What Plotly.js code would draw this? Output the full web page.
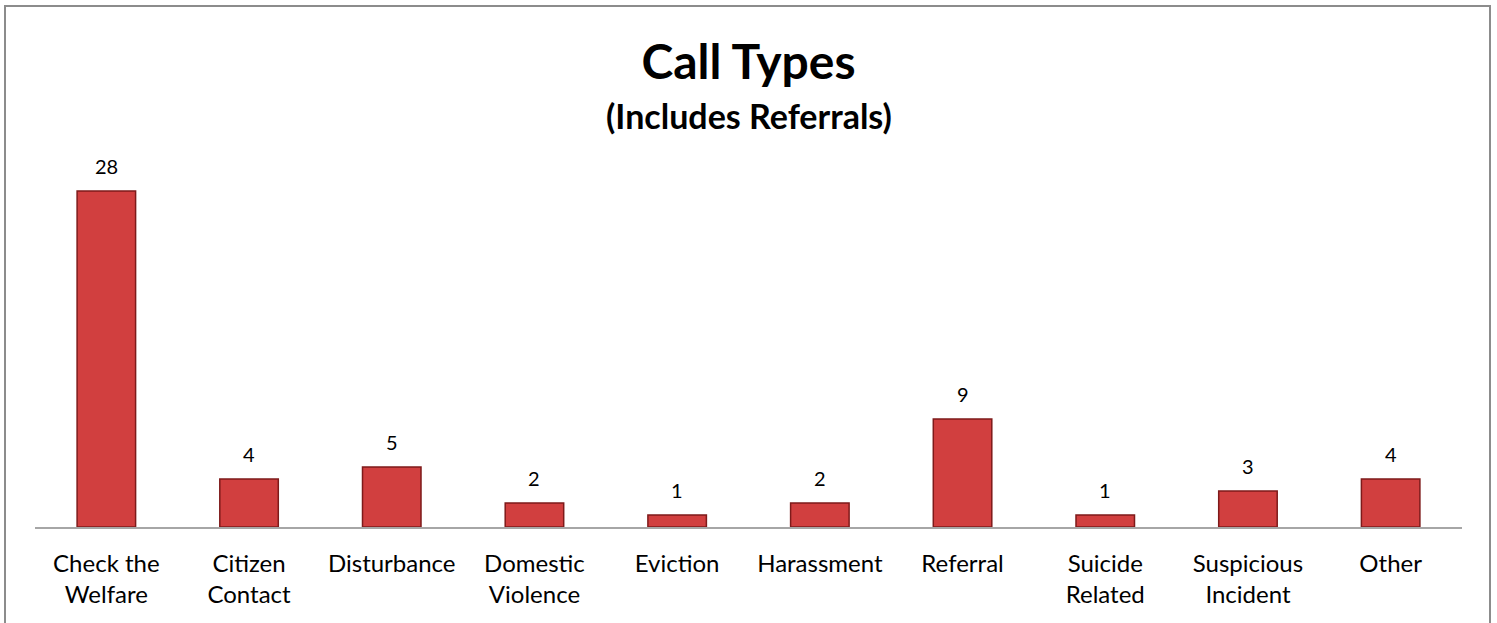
<!DOCTYPE html>
<html>
<head>
<meta charset="utf-8">
<script src="https://cdn.plot.ly/plotly-3.0.1.min.js"></script>
<style>
  html, body { margin: 0; padding: 0; background: #ffffff; }
  #wrap { position: relative; width: 1497px; height: 623px; overflow: hidden; }
  #chart { width: 1497px; height: 623px; }
  #frame { position: absolute; left: 4px; top: 5px; width: 1483px; height: 640px;
           border: 2px solid #8c8c8c; pointer-events: none; }
</style>
</head>
<body>
<div id="wrap">
  <div id="chart"></div>
  <div id="frame"></div>
</div>
<script>
const categories = [
  "Check the<br>Welfare", "Citizen<br>Contact", "Disturbance", "Domestic<br>Violence",
  "Eviction", "Harassment", "Referral", "Suicide<br>Related", "Suspicious<br>Incident", "Other"
];
const counts = [28, 4, 5, 2, 1, 2, 9, 1, 3, 4];
const titleText = "Call Types";
const subtitleText = "(Includes Referrals)";

const FONT = "Lato, 'Open Sans', sans-serif";

const trace = {
  type: "bar",
  x: categories,
  y: counts,
  marker: {
    color: "#d13f3f",
    line: { color: "#7e1a1a", width: 1.5 }
  },
  hoverinfo: "x+y"
};

const valueLabels = categories.map((c, i) => ({
  x: c, y: counts[i], xref: "x", yref: "y",
  text: String(counts[i]),
  showarrow: false,
  xanchor: "center", yanchor: "bottom",
  yshift: 11,
  font: { family: FONT, size: 20, color: "#000000" }
}));

const layout = {
  width: 1497,
  height: 623,
  margin: { l: 35, r: 35, t: 167, b: 96 },
  paper_bgcolor: "#ffffff",
  plot_bgcolor: "#ffffff",
  bargap: 0.59,
  showlegend: false,
  font: { family: FONT, color: "#000000" },
  title: {
    text: "<b>" + titleText + "</b>",
    font: { family: FONT, size: 48, color: "#000000" },
    x: 0.5, xanchor: "center",
    y: 0.90, yanchor: "middle", yref: "container"
  },
  annotations: [{
    text: "<b>" + subtitleText + "</b>",
    xref: "paper", yref: "paper",
    x: 0.5, y: 1.144, xanchor: "center", yanchor: "middle",
    showarrow: false,
    font: { family: FONT, size: 34, color: "#000000" }
  }].concat(valueLabels),
  xaxis: {
    type: "category",
    showline: true,
    linecolor: "#a6a6a6",
    linewidth: 2,
    showgrid: false,
    zeroline: false,
    ticks: "",
    tickfont: { family: FONT, size: 24, color: "#000000" },
    ticklabelstandoff: 14,
    fixedrange: true
  },
  yaxis: {
    range: [0, 30],
    visible: false,
    showgrid: false,
    zeroline: false,
    fixedrange: true
  }
};

Plotly.newPlot("chart", [trace], layout, { displayModeBar: false, staticPlot: true });
</script>
</body>
</html>
